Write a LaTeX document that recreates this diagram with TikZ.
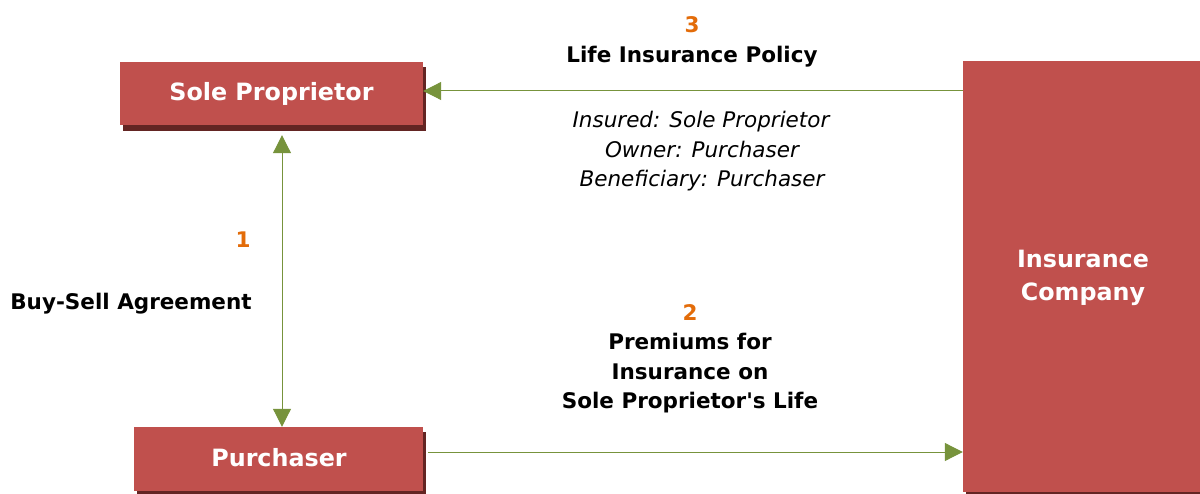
\documentclass[tikz,border=0pt]{standalone}
\usepackage{fontspec}
\setmainfont{DejaVu Sans}
\usetikzlibrary{arrows.meta}
\definecolor{boxred}{HTML}{C0504D}
\definecolor{boxshadow}{HTML}{632523}
\definecolor{linegreen}{HTML}{77933C}
\definecolor{numorange}{HTML}{E36C09}
\tikzset{
  redbox/.style={fill=boxred, draw=none, inner sep=0pt},
  boxtext/.style={text=white, font=\bfseries\fontsize{23.8}{34}\selectfont, inner sep=0pt, anchor=base},
  conn/.style={draw=linegreen, line width=1pt, -{Triangle[length=18pt,width=18pt]}, color=linegreen},
  numlabel/.style={text=numorange, font=\bfseries\fontsize{21.5}{26}\selectfont, inner sep=0pt, anchor=base},
  boldlabel/.style={text=black, font=\bfseries\fontsize{21.5}{26}\selectfont, inner sep=0pt, anchor=base},
  itlabel/.style={text=black, font=\itshape\fontsize{21.5}{26}\selectfont, inner sep=0pt, anchor=base}
}
\begin{document}
\begin{tikzpicture}[x=1pt,y=-1pt]
\useasboundingbox (0,0) rectangle (1200,494);
% shadows
\fill[boxshadow] (123,67) rectangle (426,131);
\fill[boxshadow] (137,432) rectangle (426,494);
\fill[boxshadow] (966,66) rectangle (1200,494);
% boxes
\node[redbox, minimum width=303pt, minimum height=63pt] (sole) at (271.5,93.5) {};
\node[redbox, minimum width=289pt, minimum height=64pt] (purch) at (278.5,459) {};
\node[redbox, minimum width=237pt, minimum height=431pt] (ins) at (1081.5,276.5) {};
\node[boxtext] (solet) at (271.5,101) {Sole Proprietor};
\node[boxtext] (purcht) at (279,466) {Purchaser};
\node[boxtext] (inst1) at (1083,267.3) {Insurance};
\node[boxtext] (inst2) at (1083,300.7) {Company};
% connectors
\coordinate (ta) at (963,91);
\draw[conn] (ta) -- (sole.east |- ta);
\coordinate (ba) at (428,452);
\draw[conn] (ba) -- (ins.west |- ba);
\coordinate (vx) at (282,0);
\draw[conn, {Triangle[length=18pt,width=18pt]}-{Triangle[length=18pt,width=18pt]}] ([yshift=-10pt]sole.south -| vx) -- (purch.north -| vx);
% labels
\node[numlabel] (n3) at (692,32.3) {3};
\node[boldlabel] (lip) at (692,62.7) {Life Insurance Policy};
\node[itlabel] (ins1) at (701,128) {Insured: Sole Proprietor};
\node[itlabel] (ins2) at (702,157.3) {Owner: Purchaser};
\node[itlabel] (ins3) at (702,186.7) {Beneficiary: Purchaser};
\node[numlabel] (n1) at (243,247.3) {1};
\node[boldlabel] (bsa) at (131,310) {Buy-Sell Agreement};
\node[numlabel] (n2) at (690,321) {2};
\node[boldlabel] (p1) at (690,350) {Premiums for};
\node[boldlabel] (p2) at (690,380) {Insurance on};
\node[boldlabel] (p3) at (690,409) {Sole Proprietor\textquotesingle s Life};
\end{tikzpicture}
\end{document}
